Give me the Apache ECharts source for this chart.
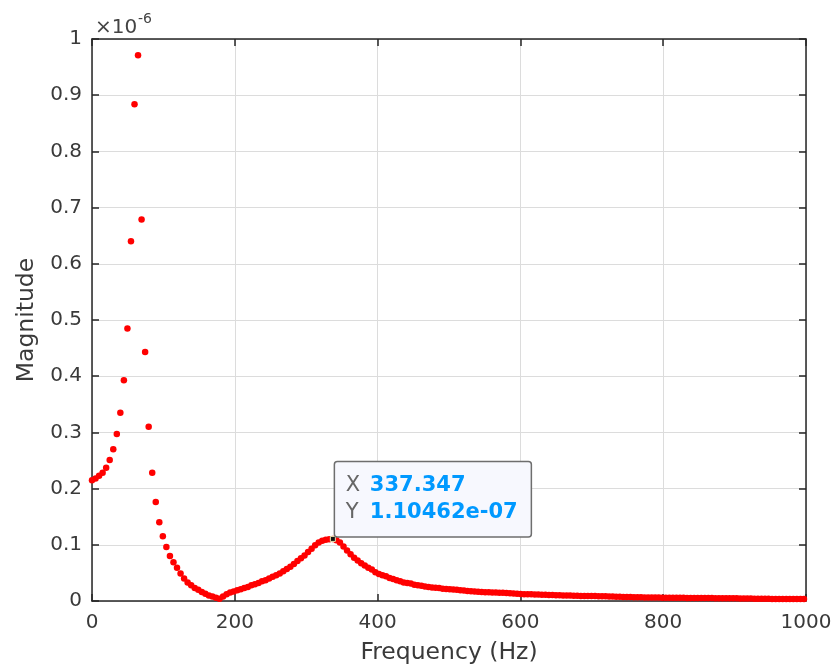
<!DOCTYPE html>
<html>
<head>
<meta charset="utf-8">
<script src="https://cdn.jsdelivr.net/npm/echarts@6.0.0/dist/echarts.min.js"></script>
<style>
html,body{margin:0;padding:0;background:#fff;}
#chart{width:835px;height:671px;}
</style>
</head>
<body>
<div id="chart"></div>
<script>
// Frequency samples (Hz)
var freq = [
0,4.96,9.92,14.88,19.84,24.80,29.77,34.73,39.69,44.65,
49.61,54.57,59.53,64.49,69.45,74.41,79.38,84.34,89.30,94.26,
99.22,104.18,109.14,114.10,119.06,124.02,128.99,133.95,138.91,143.87,
148.83,153.79,158.75,163.71,168.67,173.63,178.60,183.56,188.52,193.48,
198.44,203.40,208.36,213.32,218.28,223.24,228.21,233.17,238.13,243.09,
248.05,253.01,257.97,262.93,267.89,272.85,277.82,282.78,287.74,292.70,
297.66,302.62,307.58,312.54,317.50,322.46,327.43,332.39,337.347,342.31,
347.27,352.23,357.19,362.15,367.11,372.07,377.03,381.99,386.96,391.92,
396.88,401.84,406.80,411.76,416.72,421.68,426.64,431.61,436.57,441.53,
446.49,451.45,456.41,461.37,466.33,471.29,476.25,481.22,486.18,491.14,
496.10,501.06,506.02,510.98,515.94,520.90,525.86,530.83,535.79,540.75,
545.71,550.67,555.63,560.59,565.55,570.51,575.47,580.44,585.40,590.36,
595.32,600.28,605.24,610.20,615.16,620.12,625.08,630.05,635.01,639.97,
644.93,649.89,654.85,659.81,664.77,669.73,674.69,679.66,684.62,689.58,
694.54,699.50,704.46,709.42,714.38,719.34,724.30,729.26,734.22,739.19,
744.15,749.11,754.07,759.03,763.99,768.95,773.91,778.87,783.84,788.80,
793.76,798.72,803.68,808.64,813.60,818.56,823.52,828.48,833.45,838.41,
843.37,848.33,853.29,858.25,863.21,868.17,873.13,878.09,883.05,888.02,
892.98,897.94,902.90,907.86,912.82,917.78,922.74,927.70,932.66,937.63,
942.59,947.55,952.51,957.47,962.43,967.39,972.35,977.31,982.27,987.24,
992.20,997.16
];
// Magnitude in units of 1e-6
var mag = [
0.215,0.218,0.223,0.228,0.237,0.251,0.270,0.297,0.335,0.393,
0.485,0.640,0.884,0.971,0.679,0.443,0.310,0.228,0.176,0.140,
0.115,0.096,0.080,0.069,0.059,0.049,0.040,0.033,0.028,0.023,
0.020,0.016,0.013,0.010,0.008,0.006,0.004,0.008,0.012,0.015,
0.017,0.019,0.021,0.023,0.025,0.028,0.030,0.032,0.035,0.037,
0.040,0.043,0.046,0.049,0.053,0.057,0.061,0.066,0.071,0.076,
0.081,0.087,0.093,0.099,0.104,0.107,0.109,0.110,0.110462,0.108,
0.104,0.097,0.090,0.083,0.077,0.072,0.067,0.063,0.059,0.056,
0.051,0.048,0.046,0.044,0.041,0.039,0.037,0.035,0.033,0.032,
0.031,0.029,0.028,0.027,0.026,0.025,0.024,0.0235,0.023,0.022,
0.0215,0.021,0.0205,0.020,0.0193,0.0187,0.018,0.0175,0.017,0.0165,
0.016,0.0157,0.0155,0.0153,0.015,0.0148,0.0146,0.0142,0.0138,0.0134,
0.013,0.0125,0.0122,0.012,0.0118,0.0116,0.0114,0.0112,0.011,0.0108,
0.0106,0.0104,0.0102,0.010,0.0098,0.0096,0.0094,0.0092,0.0091,0.009,
0.0089,0.0088,0.0087,0.0086,0.0085,0.0083,0.0081,0.0079,0.0077,0.0075,
0.0073,0.0071,0.0069,0.0067,0.0066,0.0065,0.0064,0.0063,0.0062,0.0061,
0.0061,0.006,0.006,0.006,0.0059,0.0058,0.0057,0.0056,0.0055,0.0055,
0.0054,0.0054,0.0053,0.0053,0.0052,0.0052,0.0051,0.005,0.005,0.0049,
0.0048,0.0048,0.0047,0.0046,0.0045,0.0044,0.0043,0.0042,0.0041,0.004,
0.0039,0.0038,0.0037,0.0037,0.0036,0.0036,0.0036,0.0035,0.0035,0.0035,
0.0035,0.0035
];
var xTicks = {min: 0, max: 1000, interval: 200};
var yTicks = {min: 0, max: 1, interval: 0.1};
var tipX = 337.347;
var tipY = 0.110462;
var tipLabels = ['X', 'Y'];
var tipValues = ['337.347', '1.10462e-07'];
var xName = 'Frequency (Hz)';
var yName = 'Magnitude';

var FONT = 'DejaVu Sans';
var AX = '#262626';
var LBL = '#3a3a3a';
var points = freq.map(function (f, i) { return [f, mag[i]]; });

var chart = echarts.init(document.getElementById('chart'), null, {renderer: 'canvas'});

function axisCommon(extra) {
  var o = {
    type: 'value',
    axisLine: {show: true, onZero: false, lineStyle: {color: AX, width: 1.5}},
    axisTick: {show: true, inside: true, length: 7, lineStyle: {color: AX, width: 1.5}},
    axisLabel: {show: true, color: LBL, fontFamily: FONT, fontSize: 20},
    splitLine: {show: false}
  };
  for (var k in extra) o[k] = extra[k];
  return o;
}
function plain(v) { return String(Math.round(v * 1000) / 1000); }

chart.setOption({
  animation: false,
  backgroundColor: '#fff',
  grid: {left: 92, right: 29, top: 39, bottom: 70, containLabel: false},
  xAxis: [
    axisCommon({
      position: 'bottom', min: xTicks.min, max: xTicks.max, interval: xTicks.interval,
      name: xName, nameLocation: 'middle', nameGap: 40,
      nameTextStyle: {color: LBL, fontFamily: FONT, fontSize: 23.5},
      axisLabel: {show: true, color: LBL, fontFamily: FONT, fontSize: 20, margin: 12, formatter: plain},
      splitLine: {show: true, lineStyle: {color: '#dcdcdc', width: 1}}
    }),
    axisCommon({
      position: 'top', min: xTicks.min, max: xTicks.max, interval: xTicks.interval,
      axisLabel: {show: false}
    })
  ],
  yAxis: [
    axisCommon({
      position: 'left', min: yTicks.min, max: yTicks.max, interval: yTicks.interval,
      name: yName, nameLocation: 'middle', nameGap: 50, nameRotate: 90,
      nameTextStyle: {color: LBL, fontFamily: FONT, fontSize: 23.5},
      axisLabel: {show: true, color: LBL, fontFamily: FONT, fontSize: 20, margin: 10, formatter: plain},
      splitLine: {show: true, lineStyle: {color: '#dcdcdc', width: 1}}
    }),
    axisCommon({
      position: 'right', min: yTicks.min, max: yTicks.max, interval: yTicks.interval,
      axisLabel: {show: false}
    })
  ],
  series: [
    {
      type: 'scatter',
      xAxisIndex: 0, yAxisIndex: 0,
      data: points,
      symbol: 'circle',
      symbolSize: 6.5,
      itemStyle: {color: '#ff0000', opacity: 1},
      silent: true,
      z: 3
    },
    {
      type: 'scatter',
      xAxisIndex: 0, yAxisIndex: 0,
      data: [[tipX, tipY]],
      symbol: 'rect',
      symbolSize: 5,
      itemStyle: {color: '#111', borderColor: '#e8e4b0', borderWidth: 1, opacity: 1},
      silent: true,
      z: 5
    }
  ]
});

var pt = chart.convertToPixel({xAxisIndex: 0, yAxisIndex: 0}, [tipX, tipY]);
var topLeft = chart.convertToPixel({xAxisIndex: 0, yAxisIndex: 0}, [xTicks.min, yTicks.max]);

chart.setOption({
  graphic: [
    {
      type: 'text', left: topLeft[0] + 3, top: topLeft[1] - 21, z: 10,
      style: {text: '×10', fill: '#444', font: '20px "DejaVu Sans"'}
    },
    {
      type: 'text', left: topLeft[0] + 46, top: topLeft[1] - 27, z: 10,
      style: {text: '-6', fill: '#444', font: '14px "DejaVu Sans"'}
    },
    {
      type: 'rect', z: 20,
      shape: {x: pt[0] + 1.5, y: pt[1] - 77.5, width: 197, height: 75.5, r: 3},
      style: {fill: '#f7f8fe', stroke: '#6e6e6e', lineWidth: 1.5}
    },
    {
      type: 'text', z: 21, x: pt[0] + 13, y: pt[1] - 53,
      style: {text: tipLabels[0], fill: '#666', font: '21px "DejaVu Sans"', verticalAlign: 'middle'}
    },
    {
      type: 'text', z: 21, x: pt[0] + 37, y: pt[1] - 53,
      style: {text: tipValues[0], fill: '#0099ff', font: 'bold 21px "DejaVu Sans"', verticalAlign: 'middle'}
    },
    {
      type: 'text', z: 21, x: pt[0] + 13, y: pt[1] - 26,
      style: {text: tipLabels[1], fill: '#666', font: '21px "DejaVu Sans"', verticalAlign: 'middle'}
    },
    {
      type: 'text', z: 21, x: pt[0] + 37, y: pt[1] - 26,
      style: {text: tipValues[1], fill: '#0099ff', font: 'bold 21px "DejaVu Sans"', verticalAlign: 'middle'}
    }
  ]
});
</script>
</body>
</html>
